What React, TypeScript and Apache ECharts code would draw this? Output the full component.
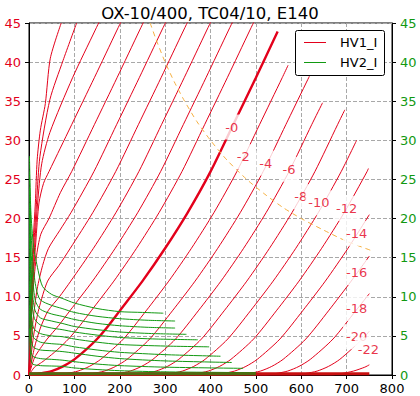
import React, { useEffect, useRef } from "react";
import * as echarts from "echarts";

// ---- axis ranges / ticks ----
const X_MIN = 0, X_MAX = 800, X_STEP = 100;
const Y_MIN = 0, Y_MAX = 45, Y_STEP = 5;

// ---- HV1_I (red) curves, [Va, Ia] ----
const P20 = [[0,0],[4,10],[9,17],[14,22],[18,27.5],[25,31.3],[36,34.7],[47,40.5],[71,45]];
const P18 = [[0,0],[5,10],[11,17],[17,22.4],[24,27.9],[46,35.2],[75,40.2],[105,45]];
const P16 = [[0,0],[6,10],[13,17],[19,22],[28,27],[46,31],[96,38],[146,44.1],[156,45.3]];
const P14 = [[0,0],[7,10],[15,17],[22,22],[32,24.5],[44,26],[69,29],[94,32],[144,38],[194,44.1],[204,45.3]];
const P12 = [[0,0],[8,10],[16,15],[26,18],[44,20],[69,23.3],[94,26],[144,32],[194,38],[244,44.1],[254,45.3]];
const P10 = [[0,0],[9,7],[18,11],[30,14],[43,16.2],[68,18.5],[93,20.8],[143,26],[193,32],[243,38],[293,44.1],[303,45.3]];
const P8 = [[0,0],[10,5],[22,8.5],[41,12],[66,14],[91,16.2],[141,20.8],[191,26],[241,32],[291,38],[341,44.1],[351,45.3]];
const P6 = [[0,0],[12,3.5],[25,6],[42,8.2],[67,10],[92,12],[142,16.2],[192,20.8],[242,26],[292,32],[342,38],[392,44.1],[402,45.3]];
const P4 = [[0,0],[12,2.2],[25,3.4],[40,4.6],[65,6.3],[90,8.2],[140,12],[190,16.2],[240,20.8],[290,26],[340,32],[390,38],[440,44.1],[450,45.3]];
const P2 = [[0,0],[12,1.0],[25,1.5],[37,2],[62,3.2],[87,4.6],[112,6.3],[137,8.2],[187,12],[237,16.2],[287,20.8],[337,26],[387,32],[437,38],[487,44.1],[497,45.3]];
const N0 = [[0,0],[25,0.2],[50,0.5],[75,1.1],[100,2],[125,3.2],[150,4.6],[175,6.3],[200,8.2],[250,12],[300,16.2],[350,20.8],[400,26],[450,32],[500,38],[548,43.9]];
const N2 = [[0,0],[58,0],[83,0.2],[108,0.5],[133,1.1],[158,2],[208,4.6],[258,8.2],[308,12],[358,16.2],[408,20.8],[458,26],[508,32],[558,38],[571,39.6]];
const N4 = [[0,0],[116,0],[141,0.2],[166,0.5],[191,1.1],[216,2],[266,4.6],[316,8.2],[366,12],[416,16.2],[466,20.8],[516,26],[566,32],[618,38.2]];
const N6 = [[0,0],[173,0],[198,0.2],[223,0.5],[248,1.1],[273,2],[323,4.6],[373,8.2],[423,12],[473,16.2],[523,20.8],[573,26],[623,32],[647,34.8]];
const N8 = [[0,0],[230,0],[255,0.2],[280,0.5],[305,1.1],[330,2],[380,4.6],[430,8.2],[480,12],[530,16.2],[580,20.8],[630,26],[680,32],[696,33.9]];
const N10 = [[0,0],[288,0],[313,0.2],[338,0.5],[363,1.1],[388,2],[438,4.6],[488,8.2],[538,12],[588,16.2],[638,20.8],[688,26],[722,30]];
const N12 = [[0,0],[345,0],[370,0.2],[395,0.5],[420,1.1],[445,2],[495,4.6],[545,8.2],[595,12],[645,16.2],[695,20.8],[745,26],[748,26.4]];
const N14 = [[0,0],[403,0],[428,0.2],[453,0.5],[478,1.1],[503,2],[553,4.6],[603,8.2],[653,12],[703,16.2],[750,20.5]];
const N16 = [[0,0],[460,0],[485,0.2],[510,0.5],[535,1.1],[560,2],[610,4.6],[660,8.2],[710,12],[750,15.2]];
const N18 = [[0,0],[520,0],[545,0.2],[570,0.5],[595,1.1],[620,2],[670,4.6],[720,8.2],[750,10.4]];
const N20 = [[0,0],[585,0],[610,0.2],[635,0.5],[660,1.1],[685,2],[735,4.6],[750,5.6]];
const N22 = [[0,0],[665,0],[690,0.2],[715,0.5],[740,1.0],[750,1.3]];
const HV1_CUTOFF = [[0,0.15],[750,0.15]];

// ---- HV2_I (green) curves ----
const G0 = [[1,28],[4,21],[10,16.5],[20,13.4],[30,11.3],[50,10.3],[73,9.8],[100,9.2],[150,8.5],[200,8.1],[250,8.0],[296,7.9]];
const G1 = [[1,26],[4,19],[9,14],[16,11],[25,9.6],[50,8.9],[73,8.5],[100,8.0],[150,7.5],[200,7.2],[260,7.0],[322,6.9]];
const G2 = [[1,24],[3,18],[8,12.5],[14,9.5],[25,8.4],[50,7.8],[73,7.5],[100,7.1],[150,6.6],[200,6.3],[260,6.1],[322,6.0]];
const G3 = [[1,22],[3,16],[7,11],[13,8.3],[25,7.3],[50,6.9],[73,6.6],[100,6.2],[150,5.8],[200,5.5],[270,5.3],[347,5.2]];
const G4 = [[1,20],[3,14],[6,9.5],[12,7.2],[25,6.4],[50,6.0],[73,5.8],[100,5.5],[150,5.1],[200,4.8],[280,4.6],[372,4.5]];
const G5 = [[1,18],[2.5,12],[5,8],[10,6],[25,5.3],[50,5.0],[73,4.9],[100,4.6],[150,4.2],[200,3.9],[300,3.7],[397,3.6]];
const G6 = [[1,15],[2.5,10],[5,6.5],[10,4.8],[25,4.2],[50,4.0],[73,3.9],[100,3.6],[150,3.2],[200,2.9],[300,2.6],[422,2.4]];
const G7 = [[1,12],[2,8],[4,5],[9,3.6],[25,3.2],[50,3.1],[73,3.0],[100,2.8],[150,2.4],[200,2.1],[300,1.8],[447,1.6]];
const G8 = [[1,9],[2,6],[4,3.5],[8,2.4],[25,2.1],[50,2.0],[73,1.9],[100,1.7],[150,1.4],[200,1.2],[300,1.0],[472,0.85]];
const G9 = [[1,6],[2,4],[4,2.2],[8,1.4],[25,1.2],[50,1.15],[73,1.1],[100,0.9],[150,0.7],[200,0.55],[300,0.4],[500,0.3]];
const HV2_CUTOFF = [[0,0.15],[500,0.15]];

// ---- dashed dissipation line ----
const DISS = [[267,45],[280,42.9],[300,40],[320,37.5],[343,35],[370,32.4],[400,30],[436,27.5],[480,25],[520,23.1],[560,21.4],[600,20],[650,18.5],[700,17.1],[755,15.9]];

// ---- inline contour labels ----
const LABEL_TEXT = ["-0","-2","-4","-6","-8","-10","-12","-14","-16","-18","-20","-22"];
const LABEL_VA = [447,472,522,573,599,639,700,722,722,722,722,748];
const LABEL_IA = [31.7,27.9,27.1,26.3,22.8,22.0,21.3,18.1,13.1,8.5,4.9,3.2];

const TITLE = "OX-10/400, TC04/10, E140";
const LEGEND_NAMES = ["HV1_I", "HV2_I"];

const RED = "#e3001b";
const GREEN = "#119911";
const FONT = '"DejaVu Sans", sans-serif';

export default function App() {
  const ref = useRef<HTMLDivElement>(null);
  useEffect(() => {
    if (!ref.current) return;
    const chart = echarts.init(ref.current, undefined, { renderer: "svg" });
    const redCurves = [P20,P18,P16,P14,P12,P10,P8,P6,P4,P2,N2,N4,N6,N8,N10,N12,N14,N16,N18,N20,N22];
    const greenCurves = [G0,G1,G2,G3,G4,G5,G6,G7,G8,G9];
    const line = (data: number[][], color: string, width: number, z: number, extra: any = {}) => ({
      type: "line",
      data,
      symbol: "none",
      showSymbol: false,
      smooth: 0.25,
      lineStyle: { color, width },
      z,
      silent: true,
      ...extra,
    });
    const series: any[] = [];
    redCurves.forEach((d) => series.push(line(d, RED, 1, 2)));
    series.push(line(N0, RED, 2.4, 2));
    series.push(line(HV1_CUTOFF, "#c81010", 3, 2, { smooth: false }));
    greenCurves.forEach((d) => series.push(line(d, GREEN, 1, 3)));
    series.push(line(HV2_CUTOFF, "#4f6b10", 3, 3, { smooth: false }));
    series.push(line(DISS, "#f5b041", 1, 4, { lineStyle: { color: "#f5b041", width: 1, type: [5, 4] } }));
    series.push({
      type: "scatter",
      symbolSize: 1,
      itemStyle: { color: "rgba(0,0,0,0)" },
      z: 6,
      silent: true,
      data: LABEL_TEXT.map((t, k) => ({ name: t, value: [LABEL_VA[k], LABEL_IA[k]] })),
      label: {
        show: true,
        position: "inside",
        formatter: (p: any) => p.name,
        color: RED,
        fontSize: 13,
        fontFamily: FONT,
        backgroundColor: "#fff",
        padding: [6, 3],
      },
    });

    const axisCommon = {
      type: "value",
      axisLine: { show: true, lineStyle: { color: "#000", width: 1 } },
      axisTick: { show: true, inside: false, length: 4, lineStyle: { color: "#000" } },
    };
    const split = { show: true, lineStyle: { color: "#a8a8a8", type: [4, 2], width: 1 } };

    chart.setOption({
      animation: false,
      title: {
        text: TITLE,
        left: "center",
        top: 0,
        textStyle: { fontSize: 16.5, fontWeight: "normal", color: "#000", fontFamily: FONT },
      },
      grid: { left: 29, right: 28, top: 23, bottom: 21, show: true, borderColor: "#000", borderWidth: 1, backgroundColor: "#fff" },
      xAxis: {
        ...axisCommon,
        min: X_MIN, max: X_MAX, interval: X_STEP,
        axisLabel: { color: "#000", fontSize: 13, fontFamily: FONT, margin: 7 },
        splitLine: split,
      },
      yAxis: [
        {
          ...axisCommon,
          position: "left",
          min: Y_MIN, max: Y_MAX, interval: Y_STEP,
          axisLabel: { color: RED, fontSize: 13, fontFamily: FONT, margin: 8 },
          splitLine: split,
        },
        {
          ...axisCommon,
          position: "right",
          min: Y_MIN, max: Y_MAX, interval: Y_STEP,
          axisLabel: { color: GREEN, fontSize: 13, fontFamily: FONT, margin: 8 },
          splitLine: { show: false },
        },
      ],
      series,
      graphic: [
        { type: "rect", z: 100, shape: { x: 295.5, y: 30.5, width: 89, height: 45, r: 2 }, style: { fill: "#fff", stroke: "#000", lineWidth: 1 } },
        { type: "line", z: 101, shape: { x1: 304, y1: 42.5, x2: 326, y2: 42.5 }, style: { stroke: RED, lineWidth: 1 } },
        { type: "text", z: 101, x: 340, y: 42.5, style: { text: LEGEND_NAMES[0], fill: "#000", fontSize: 13, fontFamily: FONT, verticalAlign: "middle", align: "left" } },
        { type: "line", z: 101, shape: { x1: 304, y1: 62.5, x2: 326, y2: 62.5 }, style: { stroke: GREEN, lineWidth: 1 } },
        { type: "text", z: 101, x: 340, y: 62.5, style: { text: LEGEND_NAMES[1], fill: "#000", fontSize: 13, fontFamily: FONT, verticalAlign: "middle", align: "left" } },
      ],
    });
    return () => chart.dispose();
  }, []);
  return <div ref={ref} style={{ position: "absolute", left: 0, top: 0, width: 420, height: 396 }} />;
}
